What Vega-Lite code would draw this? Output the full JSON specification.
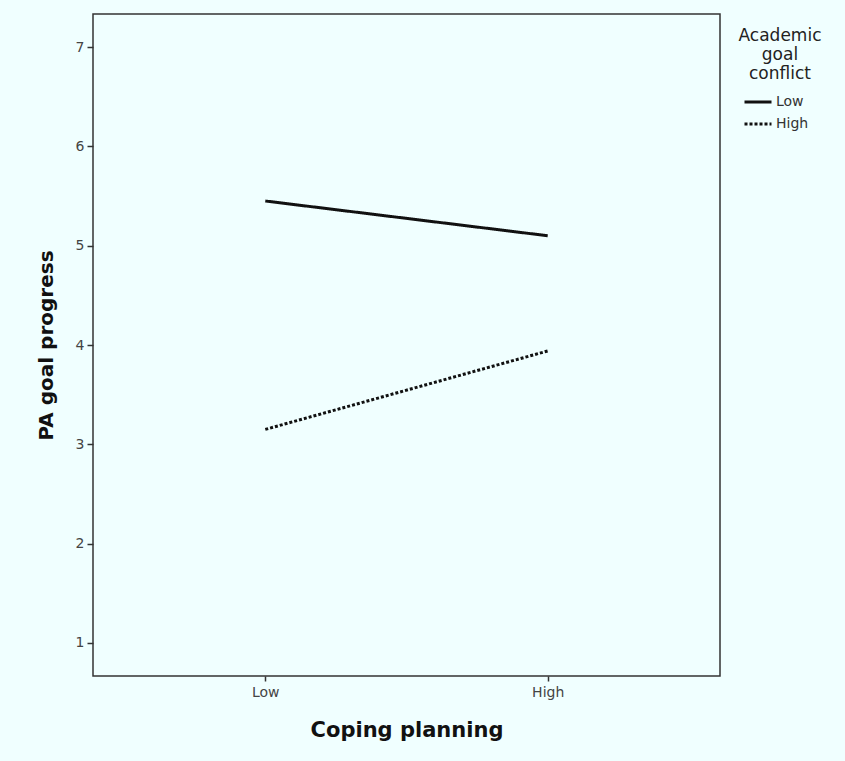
{
  "$schema": "https://vega.github.io/schema/vega-lite/v6.json",
  "autosize": "none",
  "width": 627,
  "height": 662,
  "padding": {"left": 93, "top": 14, "right": 125, "bottom": 85},
  "background": "#F0FFFF",
  "config": {
    "font": "DejaVu Sans",
    "view": {"stroke": "#333333", "strokeWidth": 1.5, "fill": "#F0FFFF"},
    "axis": {"grid": false, "domain": false, "tickColor": "#333333", "tickWidth": 1.5, "labelColor": "#444444", "labelFont": "DejaVu Sans", "titleFont": "DejaVu Sans", "titleFontWeight": "bold", "titleColor": "#111111"}
  },
  "data": {
    "values": [
      {"coping": "Low", "conflict": "Low", "progress": 5.45},
      {"coping": "High", "conflict": "Low", "progress": 5.10},
      {"coping": "Low", "conflict": "High", "progress": 3.15},
      {"coping": "High", "conflict": "High", "progress": 3.94}
    ]
  },
  "mark": {"type": "line", "strokeWidth": 3, "color": "#111111"},
  "encoding": {
    "x": {
      "field": "coping", "type": "ordinal", "sort": ["Low", "High"],
      "scale": {"type": "point", "padding": 0.61},
      "axis": {"title": "Coping planning", "labelAngle": 0, "tickSize": 5, "labelFontSize": 14, "labelPadding": 4, "titleFontSize": 21, "titlePadding": 20}
    },
    "y": {
      "field": "progress", "type": "quantitative",
      "scale": {"domain": [0.667, 7.333], "nice": false, "zero": false},
      "axis": {"title": "PA goal progress", "values": [1, 2, 3, 4, 5, 6, 7], "tickSize": 6, "labelFontSize": 14, "labelPadding": 3, "titleFontSize": 20, "titlePadding": 19}
    },
    "strokeDash": {
      "field": "conflict", "type": "nominal", "sort": ["Low", "High"],
      "scale": {"domain": ["Low", "High"], "range": [[1, 0], [3, 2]]},
      "legend": {
        "title": ["Academic", "goal", "conflict"],
        "orient": "none", "legendX": 646, "legendY": 14,
        "titleFontSize": 17, "titleFontWeight": "normal", "titleColor": "#222222", "titleAlign": "center", "titleAnchor": "middle", "titleLineHeight": 19, "titlePadding": 4,
        "labelFontSize": 14, "labelColor": "#333333", "symbolStrokeWidth": 3, "symbolSize": 729, "symbolType": "stroke", "symbolStrokeColor": "#111111", "rowPadding": -6, "labelOffset": 3, "symbolOffset": -8
      }
    }
  }
}
